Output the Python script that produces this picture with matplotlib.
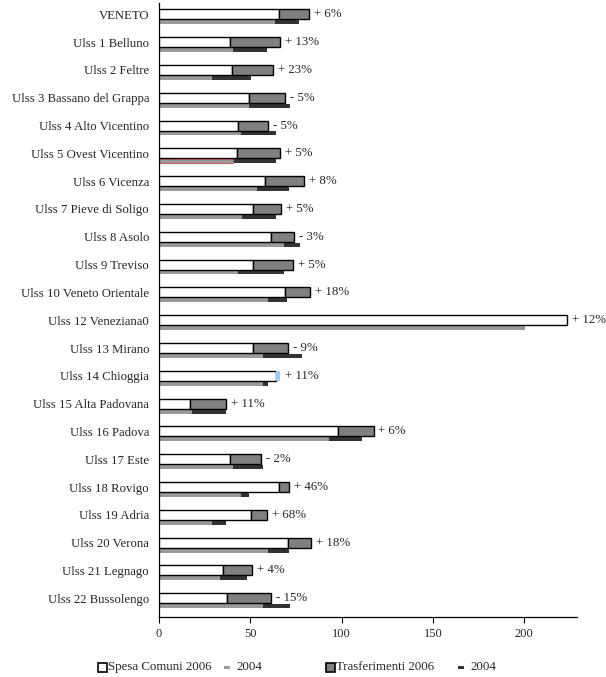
import matplotlib
matplotlib.use("Agg")
import matplotlib.pyplot as plt
from matplotlib.patches import Rectangle

plt.rcParams['font.family'] = ['Liberation Serif', 'DejaVu Serif']

categories = ["VENETO", "Ulss 1 Belluno", "Ulss 2 Feltre", "Ulss 3 Bassano del Grappa",
              "Ulss 4 Alto Vicentino", "Ulss 5 Ovest Vicentino", "Ulss 6 Vicenza",
              "Ulss 7 Pieve di Soligo", "Ulss 8 Asolo", "Ulss 9 Treviso",
              "Ulss 10 Veneto Orientale", "Ulss 12 Veneziana0", "Ulss 13 Mirano",
              "Ulss 14 Chioggia", "Ulss 15 Alta Padovana", "Ulss 16 Padova", "Ulss 17 Este",
              "Ulss 18 Rovigo", "Ulss 19 Adria", "Ulss 20 Verona", "Ulss 21 Legnago",
              "Ulss 22 Bussolengo"]

spesa_2006 = [65.9, 38.9, 40.1, 49.1, 43.4, 42.9, 58.0, 51.3, 61.3, 51.5, 68.8, 223.5,
              51.3, 64.1, 17.1, 97.8, 39.0, 65.9, 50.5, 70.8, 35.0, 37.4]
trasf_2006 = [16.4, 27.3, 22.5, 19.7, 16.4, 23.3, 21.4, 15.3, 12.6, 21.9, 14.0, 0.0,
              19.2, 2.0, 19.4, 19.7, 17.0, 5.3, 8.8, 12.6, 15.9, 24.1]
spesa_2004 = [63.5, 40.3, 29.2, 49.1, 44.9, 40.3, 53.5, 45.6, 68.6, 43.3, 59.8, 200.4,
              56.8, 56.9, 17.9, 92.9, 40.5, 45.1, 29.2, 59.7, 33.2, 56.9]
trasf_2004 = [13.3, 19.0, 21.0, 22.6, 19.0, 23.6, 17.8, 18.5, 8.4, 25.3, 10.4, 0.0,
              21.3, 2.8, 18.8, 18.4, 16.4, 4.0, 7.5, 11.6, 14.8, 15.0]
var_labels = ["+ 6%", "+ 13%", "+ 23%", "- 5%", "- 5%", "+ 5%", "+ 8%", "+ 5%", "- 3%",
              "+ 5%", "+ 18%", "+ 12%", "- 9%", "+ 11%", "+ 11%", "+ 6%", "- 2%",
              "+ 46%", "+ 68%", "+ 18%", "+ 4%", "- 15%"]
xticks = [0, 50, 100, 150, 200]

# style
c_white = "white"
c_trasf06 = "#808080"
c_sp04 = "#9a9a9a"
c_tr04 = "#333333"
trasf06_override = {"Ulss 14 Chioggia": "#99ccff"}
txt_color = "#262626"

fig = plt.figure(figsize=(6.06, 6.77), dpi=100)
ax = fig.add_axes([159/606, 1-617.3/677, (576.7-159)/606, (617.3-3)/677])

n = len(categories)
ys = list(range(n))
h_top = 0.36
h_bot = 0.145
off_bot = 0.283

tr_colors = [trasf06_override.get(c, c_trasf06) for c in categories]
tr_edges = ["none" if c in trasf06_override else "black" for c in categories]

ax.barh(ys, spesa_2006, height=h_top, color=c_white, edgecolor="black", linewidth=1.0, zorder=3)
for y, s, t, col, ec in zip(ys, spesa_2006, trasf_2006, tr_colors, tr_edges):
    if t > 0:
        ax.barh(y, t, left=s, height=h_top, color=col, edgecolor=ec, linewidth=1.0, zorder=3)
yb = [y + off_bot for y in ys]
ax.barh(yb, spesa_2004, height=h_bot, color=c_sp04, edgecolor="none", zorder=2)
ax.barh(yb, trasf_2004, left=spesa_2004, height=h_bot, color=c_tr04, edgecolor="none", zorder=2)
# reddish outline on Ulss 5 2004 bar
i5 = categories.index("Ulss 5 Ovest Vicentino")
ax.barh(yb[i5], spesa_2004[i5], height=h_bot, color="none", edgecolor="#d06060", linewidth=0.8, zorder=2.5)

for y, s, t, lab in zip(ys, spesa_2006, trasf_2006, var_labels):
    ax.annotate(lab, xy=(s + t, y), xytext=(3.5, 0), textcoords="offset points",
                ha="left", va="center", fontsize=9.3, color=txt_color, zorder=4)

ax.set_xlim(0, 228.7)
ax.set_ylim(21 + 19/27.81, -11.3/27.81)
ax.set_xticks(xticks)
ax.set_xticklabels([str(v) for v in xticks], fontsize=9, color=txt_color)
ax.set_yticks(ys)
ax.set_yticklabels(categories, fontsize=9.2, color=txt_color)
ax.tick_params(axis="y", length=0, pad=7.2)
ax.tick_params(axis="x", length=4, width=0.8, direction="out", pad=4)
for sp in ["top", "right"]:
    ax.spines[sp].set_visible(False)
for sp in ["left", "bottom"]:
    ax.spines[sp].set_linewidth(0.9)
    ax.spines[sp].set_color("black")

# legend drawn manually
def fx(px):
    return px / 606
def fy(py):
    return 1 - py / 677
ly = 667
sq = 9
fig.patches.append(Rectangle((fx(98), fy(ly + sq/2)), sq/606, sq/677, transform=fig.transFigure,
                             facecolor="white", edgecolor="black", linewidth=1.2))
fig.text(fx(108), fy(ly), "Spesa Comuni 2006", fontsize=9.3, va="center", ha="left", color=txt_color)
fig.patches.append(Rectangle((fx(224), fy(ly + 1.5)), 6/606, 3/677, transform=fig.transFigure,
                             facecolor=c_sp04, edgecolor="none"))
fig.text(fx(236), fy(ly), "2004", fontsize=9.3, va="center", ha="left", color=txt_color)
fig.patches.append(Rectangle((fx(326), fy(ly + sq/2)), sq/606, sq/677, transform=fig.transFigure,
                             facecolor=c_trasf06, edgecolor="black", linewidth=1.2))
fig.text(fx(336), fy(ly), "Trasferimenti 2006", fontsize=9.3, va="center", ha="left", color=txt_color)
fig.patches.append(Rectangle((fx(458), fy(ly + 1.5)), 6/606, 3/677, transform=fig.transFigure,
                             facecolor=c_tr04, edgecolor="none"))
fig.text(fx(470), fy(ly), "2004", fontsize=9.3, va="center", ha="left", color=txt_color)

fig.savefig("out.png", dpi=100)
